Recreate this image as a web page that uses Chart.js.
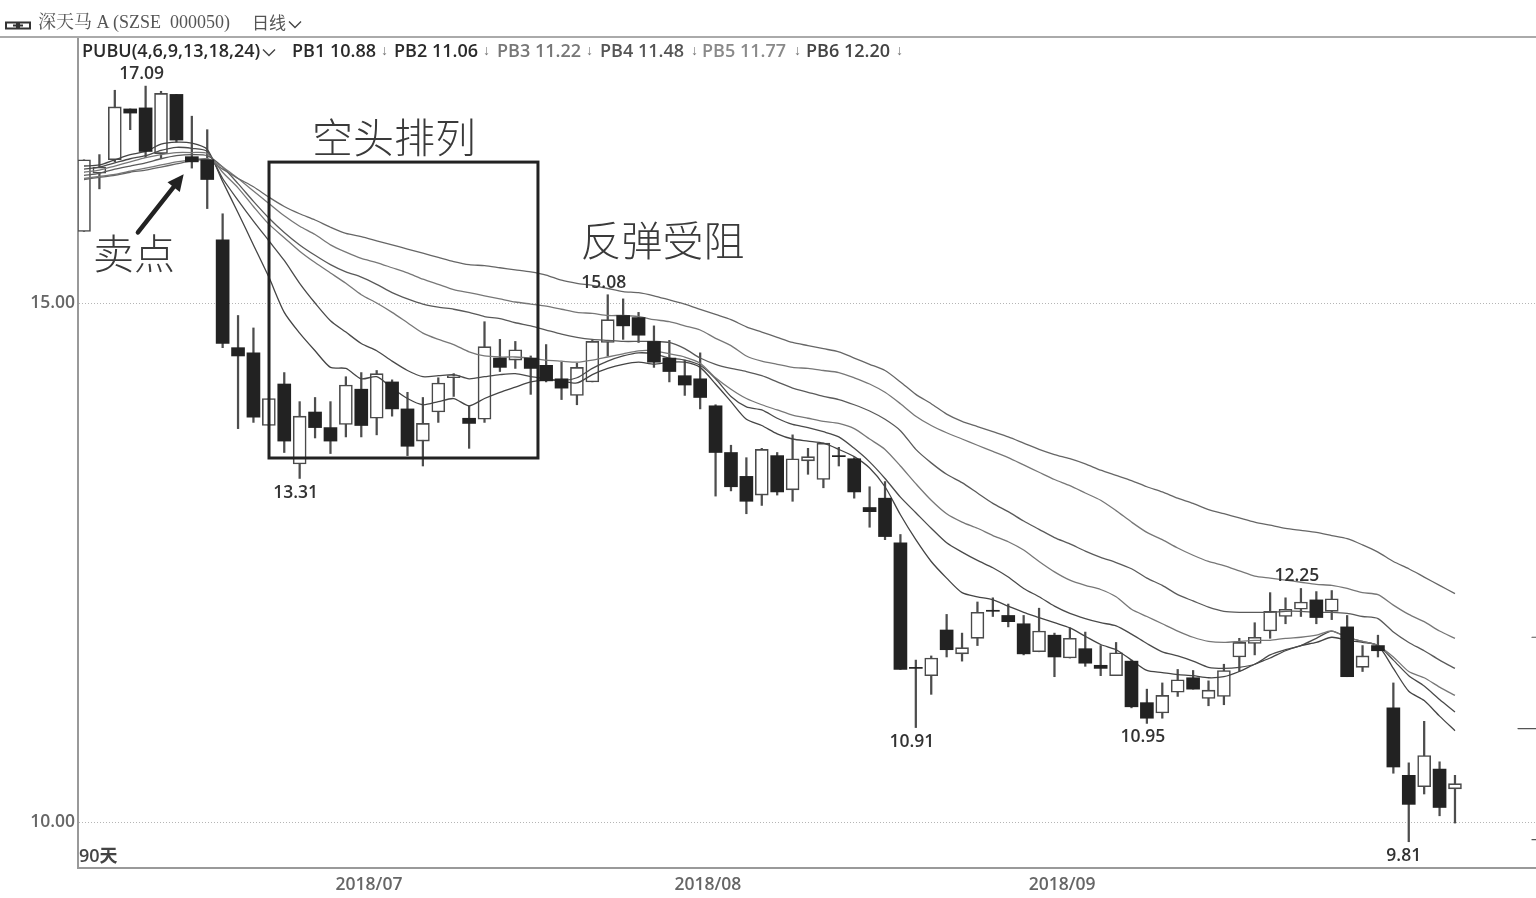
<!DOCTYPE html>
<html lang="zh-CN">
<head>
<meta charset="utf-8">
<title>深天马 A PUBU</title>
<script src="https://cdn.jsdelivr.net/npm/chart.js@4"></script>
<style>
html,body{margin:0;padding:0;background:#fff;width:1536px;height:898px;overflow:hidden}
#wrap{position:relative;width:1536px;height:898px;filter:blur(.35px)}
canvas{position:absolute;left:0;top:0}
.t{position:absolute;white-space:nowrap;line-height:1}
#hdr{font-family:"Liberation Serif","Noto Serif CJK SC","Noto Sans CJK SC",serif;font-size:18px;color:#555}
.lg{font-family:"Open Sans",sans-serif;font-size:18px;font-weight:600}
</style>
</head>
<body>
<div id="wrap"><canvas id="c" width="1536" height="898"></canvas></div>
<script>
// ---------- data ----------
const opens=[15.69,16.25,16.38,16.87,16.88,16.44,17.01,16.41,16.38,15.61,14.57,14.52,13.82,14.22,13.45,13.95,13.80,13.83,14.17,13.89,14.24,13.98,13.67,13.95,14.28,13.89,13.88,14.47,14.45,14.47,14.40,14.27,14.11,14.24,14.62,14.88,14.86,14.63,14.47,14.30,14.27,14.01,13.56,13.33,13.15,13.53,13.20,13.48,13.30,13.53,13.50,13.03,13.12,12.69,11.49,11.41,11.85,11.62,11.77,12.04,11.99,11.91,11.64,11.80,11.58,11.67,11.51,11.41,11.55,11.15,11.05,11.25,11.39,11.19,11.21,11.59,11.72,11.84,11.98,12.05,12.14,12.03,11.88,11.49,11.70,11.10,10.45,10.34,10.51,10.32];
const closes=[16.38,16.31,16.89,16.83,16.46,17.02,16.57,16.36,16.19,14.61,14.49,13.90,14.08,13.67,13.91,13.80,13.67,14.21,13.82,14.32,13.98,13.62,13.84,14.23,14.30,13.84,14.58,14.38,14.55,14.37,14.25,14.18,14.38,14.63,14.84,14.78,14.69,14.43,14.34,14.21,14.09,13.56,13.23,13.09,13.59,13.18,13.50,13.52,13.65,13.52,13.18,12.99,12.75,11.47,11.48,11.58,11.66,11.68,12.02,12.03,11.93,11.62,11.84,11.59,11.77,11.53,11.48,11.63,11.11,11.00,11.22,11.37,11.28,11.27,11.46,11.73,11.78,12.03,12.05,12.12,11.97,12.15,11.40,11.60,11.65,10.53,10.17,10.64,10.14,10.37];
const highs=[16.38,16.43,17.05,16.87,17.09,17.04,17.01,16.80,16.67,15.86,14.88,14.76,14.08,14.33,14.05,14.09,14.05,14.29,14.33,14.35,14.26,14.14,14.09,14.28,14.32,14.01,14.82,14.65,14.63,14.49,14.60,14.43,14.42,14.64,15.08,15.04,14.91,14.78,14.64,14.45,14.52,14.02,13.63,13.51,13.60,13.56,13.73,13.60,13.65,13.61,13.51,13.23,13.28,12.77,11.56,11.60,12.00,11.82,12.12,12.16,12.10,11.99,12.06,11.82,11.87,11.83,11.70,11.73,11.56,11.28,11.34,11.47,11.46,11.36,11.52,11.77,11.92,12.21,12.16,12.25,12.22,12.23,11.99,11.70,11.80,11.34,10.57,10.97,10.58,10.45];
const lows=[15.69,16.10,16.36,16.67,16.40,16.40,16.55,16.30,15.91,14.57,13.79,13.85,13.82,13.56,13.31,13.70,13.55,13.71,13.71,13.73,13.91,13.53,13.43,13.85,14.10,13.60,13.85,14.34,14.37,14.12,14.24,14.07,14.02,14.24,14.49,14.65,14.62,14.38,14.24,14.11,13.98,13.14,13.19,12.97,13.05,13.15,13.09,13.35,13.22,13.43,13.12,12.84,12.72,11.47,10.91,11.23,11.59,11.55,11.70,11.98,11.88,11.61,11.64,11.40,11.58,11.50,11.41,11.41,11.10,10.95,11.00,11.21,11.28,11.12,11.13,11.45,11.61,11.77,11.91,11.98,11.91,11.95,11.40,11.45,11.59,10.47,9.81,10.27,10.06,9.99];
const pb1=[16.32,16.33,16.38,16.43,16.46,16.53,16.55,16.54,16.48,16.17,15.87,15.56,15.25,14.91,14.71,14.54,14.38,14.37,14.27,14.29,14.18,14.08,14.02,14.05,14.08,14.01,14.08,14.14,14.19,14.24,14.26,14.25,14.23,14.31,14.37,14.41,14.43,14.41,14.43,14.43,14.38,14.22,14.05,13.88,13.82,13.74,13.69,13.67,13.65,13.59,13.52,13.41,13.23,12.96,12.72,12.51,12.35,12.21,12.17,12.14,12.08,12.02,11.97,11.92,11.87,11.79,11.71,11.66,11.56,11.46,11.44,11.42,11.41,11.39,11.40,11.45,11.52,11.58,11.65,11.70,11.73,11.78,11.75,11.73,11.70,11.48,11.26,11.17,11.02,10.88];
const pb2=[16.29,16.31,16.35,16.39,16.42,16.47,16.50,16.49,16.46,16.20,15.99,15.79,15.60,15.41,15.19,15.00,14.83,14.72,14.61,14.54,14.44,14.35,14.29,14.30,14.31,14.27,14.29,14.31,14.32,14.29,14.27,14.25,14.28,14.37,14.44,14.49,14.52,14.51,14.47,14.45,14.40,14.27,14.10,14.00,13.97,13.89,13.83,13.80,13.76,13.71,13.60,13.47,13.31,13.13,12.98,12.83,12.69,12.60,12.52,12.45,12.36,12.25,12.17,12.08,12.01,11.96,11.92,11.89,11.81,11.72,11.64,11.60,11.55,11.49,11.48,11.49,11.52,11.61,11.66,11.70,11.77,11.84,11.78,11.74,11.70,11.56,11.41,11.31,11.18,11.06];
const pb3=[16.26,16.28,16.32,16.36,16.40,16.43,16.45,16.45,16.44,16.26,16.11,15.93,15.76,15.63,15.50,15.39,15.29,15.19,15.08,15.00,14.91,14.81,14.71,14.65,14.60,14.53,14.49,14.48,14.48,14.47,14.45,14.44,14.43,14.45,14.48,14.51,14.54,14.54,14.51,14.48,14.42,14.28,14.17,14.08,14.02,13.97,13.92,13.89,13.86,13.84,13.79,13.69,13.59,13.43,13.26,13.10,12.97,12.89,12.83,12.76,12.70,12.62,12.51,12.41,12.33,12.28,12.24,12.17,12.05,11.98,11.91,11.84,11.78,11.74,11.73,11.74,11.75,11.75,11.77,11.78,11.80,11.84,11.78,11.74,11.70,11.59,11.45,11.39,11.30,11.22];
const pb4=[16.23,16.25,16.29,16.32,16.35,16.39,16.42,16.43,16.42,16.31,16.15,15.98,15.82,15.68,15.56,15.46,15.37,15.30,15.25,15.18,15.10,15.04,14.99,14.96,14.94,14.91,14.87,14.85,14.81,14.78,14.74,14.70,14.67,14.65,14.64,14.63,14.63,14.63,14.62,14.56,14.47,14.41,14.37,14.34,14.30,14.24,14.18,14.14,14.10,14.07,14.02,13.96,13.88,13.77,13.59,13.46,13.35,13.27,13.17,13.07,12.99,12.90,12.82,12.74,12.68,12.61,12.55,12.50,12.44,12.35,12.28,12.19,12.13,12.07,12.03,12.02,12.02,12.02,12.03,12.03,12.02,12.02,12.01,11.98,11.96,11.83,11.73,11.65,11.56,11.48];
const pb5=[16.20,16.22,16.24,16.27,16.30,16.33,16.36,16.38,16.39,16.31,16.20,16.08,15.96,15.84,15.74,15.66,15.56,15.49,15.43,15.39,15.34,15.29,15.23,15.18,15.13,15.10,15.07,15.04,15.01,14.99,14.97,14.94,14.91,14.90,14.88,14.88,14.87,14.84,14.82,14.78,14.74,14.66,14.59,14.49,14.44,14.41,14.38,14.37,14.35,14.33,14.28,14.22,14.14,14.03,13.91,13.82,13.75,13.69,13.63,13.57,13.51,13.44,13.37,13.30,13.24,13.17,13.10,13.00,12.89,12.79,12.72,12.64,12.57,12.51,12.47,12.42,12.37,12.35,12.33,12.31,12.29,12.28,12.25,12.21,12.19,12.09,12.00,11.93,11.84,11.77];
const pb6=[16.19,16.21,16.23,16.26,16.28,16.31,16.34,16.37,16.38,16.29,16.20,16.12,16.02,15.93,15.86,15.80,15.73,15.67,15.64,15.60,15.56,15.52,15.48,15.44,15.40,15.37,15.36,15.34,15.32,15.30,15.27,15.22,15.19,15.17,15.14,15.11,15.10,15.07,15.03,14.99,14.94,14.89,14.84,14.77,14.72,14.67,14.62,14.59,14.56,14.53,14.47,14.41,14.35,14.24,14.12,14.03,13.93,13.86,13.81,13.76,13.71,13.65,13.59,13.54,13.50,13.45,13.39,13.34,13.29,13.23,13.18,13.12,13.07,13.01,12.97,12.93,12.89,12.86,12.83,12.81,12.79,12.76,12.73,12.67,12.60,12.51,12.44,12.36,12.28,12.20];
const yTickValues=[10,15];
const monthLabels=["2018/07","2018/08","2018/09"];
const monthIndex=[18.5,40.5,63.5];
const legendNames=["PB1","PB2","PB3","PB4","PB5","PB6"];
const legendValues=["10.88","11.06","11.22","11.48","11.77","12.20"];
const rightEdgeTicks=[11.78,10.90,9.83];
const pointLabels=["17.09","13.31","15.08","10.91","10.95","12.25","9.81"];
const pointLabelIndex=[4,14,34,54,69,79,86];

// ---------- styling / layout, separate from the data ----------
const legendLeft=[292,394,497,600,702,806], arrowLeft=[381,483,586,691,794,896];
const legendColor=["#2a2a2a","#2a2a2a","#777","#555","#8a8a8a","#444"];
const labelOffset=[[-4,-12],[-4,15],[-4,-12],[-4,14],[-4,14],[-4,-12],[-5,14]];
const lineColors=["#444","#4a4a4a","#777","#5a5a5a","#777","#666"];
const plotLeft=78,plotRight=1536,plotTop=37,plotBottom=868;

const idx=opens.map((_,i)=>i);
const isUp=i=>closes[i]>=opens[i];
const bodyOf=i=>({x:i,y:[Math.min(opens[i],closes[i]),Math.max(opens[i],closes[i])]});
const lineDs=(arr,k)=>({type:'line',label:legendNames[k],data:arr.map((v,i)=>({x:i,y:v})),borderColor:lineColors[k],borderWidth:1.3,pointRadius:0,tension:0.25,order:3,fill:false});

const overlay={
  id:'overlay',
  afterDatasetsDraw(ch){
    const {ctx,scales:{x,y}}=ch;
    ctx.save();
    // 空头排列 box
    ctx.strokeStyle='#222';ctx.lineWidth=3;
    ctx.strokeRect(x.getPixelForValue(12.01),y.getPixelForValue(16.358),x.getPixelForValue(29.47)-x.getPixelForValue(12.01),y.getPixelForValue(13.507)-y.getPixelForValue(16.358));
    // sell-point arrow
    const ax0=x.getPixelForValue(3.5),ay0=y.getPixelForValue(15.68),ax1=x.getPixelForValue(6.47),ay1=y.getPixelForValue(16.24);
    const ang=Math.atan2(ay1-ay0,ax1-ax0);
    ctx.strokeStyle='#222';ctx.fillStyle='#222';ctx.lineWidth=4.5;ctx.lineCap='round';
    ctx.beginPath();ctx.moveTo(ax0,ay0);ctx.lineTo(ax1-10*Math.cos(ang),ay1-10*Math.sin(ang));ctx.stroke();
    ctx.beginPath();ctx.moveTo(ax1,ay1);
    ctx.lineTo(ax1-18*Math.cos(ang-0.45),ay1-18*Math.sin(ang-0.45));
    ctx.lineTo(ax1-18*Math.cos(ang+0.45),ay1-18*Math.sin(ang+0.45));
    ctx.closePath();ctx.fill();
    // big captions
    ctx.fillStyle='#3a3a3a';ctx.textAlign='center';ctx.textBaseline='middle';
    ctx.font='300 41px "Noto Sans CJK SC"';
    ctx.fillText('空头排列',x.getPixelForValue(20.12),y.getPixelForValue(16.60));
    ctx.fillText('反弹受阻',x.getPixelForValue(37.55),y.getPixelForValue(15.60));
    ctx.fillText('卖点',x.getPixelForValue(3.25),y.getPixelForValue(15.48));
    // value labels
    ctx.font='600 17.5px "Open Sans"';ctx.fillStyle='#333';
    pointLabels.forEach((t,k)=>{
      const i=pointLabelIndex[k],o=labelOffset[k];
      const base=o[1]<0?highs[i]:lows[i];
      ctx.fillText(t,x.getPixelForValue(i)+o[0],y.getPixelForValue(base)+o[1]);
    });
    // 90天
    ctx.textAlign='left';ctx.font='600 18px "Open Sans","Noto Sans CJK SC"';ctx.fillStyle='#444';
    ctx.fillText('90天',plotLeft+1,y.getPixelForValue(9.66));
    // stub marks on the right edge
    ctx.strokeStyle='#555';ctx.lineWidth=1.2;
    rightEdgeTicks.forEach((v,k)=>{
      const py=y.getPixelForValue(v),len=k===1?18:4;
      ctx.beginPath();ctx.moveTo(plotRight-len,py);ctx.lineTo(plotRight,py);ctx.stroke();
    });
    ctx.restore();
  }
};

new Chart(document.getElementById('c'),{
  type:'bar',
  data:{datasets:[
    {label:'wick',data:idx.map(i=>({x:i,y:[lows[i],highs[i]]})),backgroundColor:'#4d4d4d',barThickness:1.6,grouped:false,order:6},
    {label:'up',data:idx.filter(isUp).map(bodyOf),backgroundColor:'#fff',borderColor:'#4a4a4a',borderWidth:1.6,borderSkipped:false,barThickness:13,grouped:false,order:5},
    lineDs(pb6,5),lineDs(pb5,4),lineDs(pb4,3),lineDs(pb3,2),lineDs(pb2,1),lineDs(pb1,0),
    {label:'down',data:idx.filter(i=>!isUp(i)).map(bodyOf),backgroundColor:'#222',borderColor:'#222',borderWidth:0,barThickness:13,grouped:false,order:2}
  ]},
  options:{
    responsive:false,animation:false,
    layout:{padding:{left:0,right:0,top:plotTop,bottom:0}},
    plugins:{legend:{display:false},tooltip:{enabled:false},title:{display:false}},
    scales:{
      x:{type:'linear',min:-0.3895,max:94.26,offset:false,
        afterBuildTicks(s){s.ticks=monthIndex.map(v=>({value:v}));},
        afterFit(s){s.height=898-plotBottom;},
        ticks:{autoSkip:false,maxRotation:0,padding:7,color:'#666',font:{family:'"Open Sans"',size:17.5,weight:'600'},
          callback(v){const k=monthIndex.indexOf(v);return k>=0?monthLabels[k]:'';}},
        grid:{display:false,drawTicks:false},
        border:{color:'#999',width:2}},
      y:{type:'linear',min:9.557,max:17.563,
        afterBuildTicks(s){s.ticks=yTickValues.map(v=>({value:v}));},
        afterFit(s){s.width=plotLeft;},
        ticks:{padding:3,color:'#666',font:{family:'"Open Sans"',size:17.5,weight:'600'},callback:v=>Number(v).toFixed(2)},
        grid:{color:'#b5b5b5',lineWidth:1,drawTicks:false},
        border:{color:'#999',width:2,dash:[1,2]}}
    }
  },
  plugins:[overlay]
});

// ---------- header text ----------
const wrap=document.getElementById('wrap');
function add(html,left,top,cls,color){const d=document.createElement('div');d.className='t '+(cls||'');d.style.left=left+'px';d.style.top=top+'px';if(color)d.style.color=color;d.innerHTML=html;wrap.appendChild(d);return d;}
const chev='<svg width="14" height="9" viewBox="0 0 14 9" style="margin-left:2px"><path d="M1 1.5 L7 7.5 L13 1.5" fill="none" stroke="#444" stroke-width="1.4"/></svg>';
const rule=document.createElement('div');rule.style.cssText='position:absolute;left:0;top:36px;width:1536px;height:2px;background:#aaa';wrap.appendChild(rule);
add('<svg width="26" height="9" viewBox="0 0 26 9"><rect x="1" y="1.5" width="11" height="6" fill="none" stroke="#333" stroke-width="2"/><rect x="14" y="1.5" width="11" height="6" fill="none" stroke="#333" stroke-width="2"/><path d="M8 4.5H18" stroke="#333" stroke-width="2"/></svg>',5,17);
const h1=add('深天马 A (SZSE&nbsp; 000050)',38,13);h1.id='hdr';
const h2=add('日线'+chev,252,13);h2.style.cssText+=';font-family:"Noto Sans CJK SC";font-size:17px;color:#555';
add('PUBU(4,6,9,13,18,24)'+chev,82,41,'lg','#2a2a2a');
legendNames.forEach((n,k)=>{
  add(n+' '+legendValues[k],legendLeft[k],41,'lg',legendColor[k]);
  add('↓',arrowLeft[k],43,'lg','#777').style.fontSize='14px';
});
</script>
</body>
</html>
